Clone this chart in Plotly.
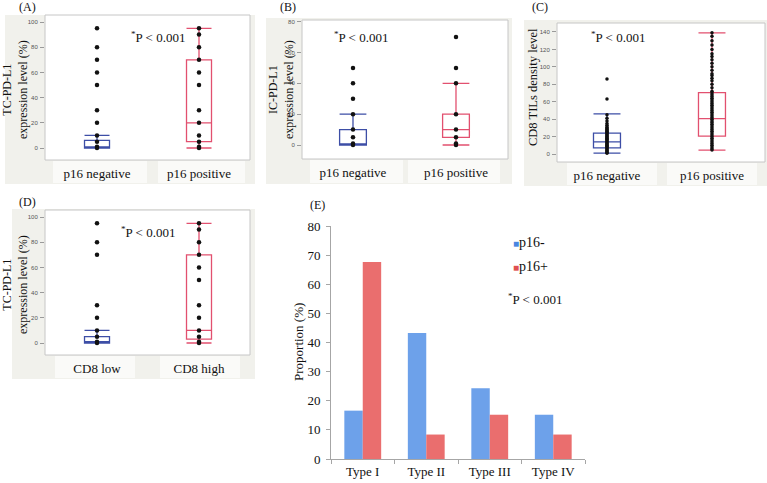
import plotly.graph_objects as go

W, H = 767, 483
SERIF = "Liberation Serif, Times New Roman, serif"
SANS = "Liberation Sans, Arial, sans-serif"
BLUE_BOX = "#3d4ea6"
PINK_BOX = "#e2506f"

# ---------------- data ----------------
p16_cats = ["p16 negative", "p16 positive"]
cd8_cats = ["CD8 low", "CD8 high"]

# Panel A: TC-PD-L1 by p16 status (box summary + observed points)
a_q1 = [0, 5]; a_med = [0.8, 20]; a_q3 = [6, 70]; a_lo = [0, 0]; a_hi = [10, 95]
a_neg_pts = [95, 80, 70, 60, 50, 30, 20, 10, 5, 1, 0]
a_pos_pts = [95, 90, 80, 70, 60, 50, 30, 20, 10, 5, 1, 0]

# Panel B: IC-PD-L1 by p16 status
b_q1 = [0, 5]; b_med = [0.5, 10]; b_q3 = [10, 20]; b_lo = [0, 0]; b_hi = [20, 40]
b_neg_pts = [50, 40, 30, 20, 10, 5, 1, 0]
b_pos_pts = [70, 50, 40, 20, 10, 5, 1, 0]

# Panel C: CD8 TILs density by p16 status
c_q1 = [7, 20.5]; c_med = [14, 40.5]; c_q3 = [24, 70.5]; c_lo = [1, 4.5]; c_hi = [46, 139]
c_neg_pts = [86, 63, 45, 41, 38, 35, 33, 31, 30, 29, 28, 27, 26, 25, 24, 23, 22, 21,
             20, 19, 18, 17, 16, 15, 14, 13, 12, 11, 10, 9, 8, 7, 6, 5, 4, 3, 2, 1]
c_pos_pts = [139, 135, 130, 125, 120, 115, 112, 108, 104, 100, 96, 92, 90, 87, 84, 80,
             76, 72, 70, 68, 66, 64, 62, 60, 58, 56, 54, 52, 50, 48, 46, 44, 42, 40,
             38, 36, 34, 32, 30, 28, 26, 24, 22, 20, 18, 16, 14, 12, 10, 8, 6, 4.5]

# Panel D: TC-PD-L1 by CD8 density
d_q1 = [0, 3]; d_med = [1, 10]; d_q3 = [5, 70]; d_lo = [0, 0]; d_hi = [10, 95]
d_low_pts = [95, 80, 70, 30, 20, 10, 5, 1, 0]
d_high_pts = [95, 90, 80, 70, 60, 50, 30, 20, 10, 5, 1, 0]

# Panel E: proportion of types
types = ["Type I", "Type II", "Type III", "Type IV"]
e_neg = [16.6, 43.3, 24.3, 15.2]
e_pos = [67.6, 8.4, 15.2, 8.4]


def px(x):
    return x / W


def py(y):
    return 1 - y / H


fig = go.Figure()


def add_box_panel(ax, cats, q1, med, q3, lo, hi, pts0, pts1, bw, msize=4.5):
    xa = "x" if ax == 1 else f"x{ax}"
    ya = "y" if ax == 1 else f"y{ax}"
    for i, col in enumerate([BLUE_BOX, PINK_BOX]):
        fig.add_trace(go.Box(
            x=[cats[i]], q1=[q1[i]], median=[med[i]], q3=[q3[i]],
            lowerfence=[lo[i]], upperfence=[hi[i]],
            width=bw, whiskerwidth=1, boxpoints=False,
            line=dict(color=col, width=1.3), fillcolor="rgba(0,0,0,0)",
            showlegend=False, hoverinfo="skip", xaxis=xa, yaxis=ya))
    for i, pts in enumerate([pts0, pts1]):
        fig.add_trace(go.Scatter(
            x=[cats[i]] * len(pts), y=pts, mode="markers",
            marker=dict(color="#111111", size=msize),
            showlegend=False, hoverinfo="skip", xaxis=xa, yaxis=ya))


add_box_panel(1, p16_cats, a_q1, a_med, a_q3, a_lo, a_hi, a_neg_pts, a_pos_pts, 0.245)
add_box_panel(2, p16_cats, b_q1, b_med, b_q3, b_lo, b_hi, b_neg_pts, b_pos_pts, 0.26)
add_box_panel(3, p16_cats, c_q1, c_med, c_q3, c_lo, c_hi, c_neg_pts, c_pos_pts, 0.257, msize=3.5)
add_box_panel(4, cd8_cats, d_q1, d_med, d_q3, d_lo, d_hi, d_low_pts, d_high_pts, 0.245)

fig.add_trace(go.Bar(x=types, y=e_neg, name="p16-", marker=dict(color="#6da1ea", line=dict(width=0)),
                     xaxis="x5", yaxis="y5", showlegend=False))
fig.add_trace(go.Bar(x=types, y=e_pos, name="p16+", marker=dict(color="#ea6e6e", line=dict(width=0)),
                     xaxis="x5", yaxis="y5", showlegend=False))

# ---------------- axes ----------------
def cat_xaxis(dom, rng, cats, anchor):
    return dict(domain=[px(dom[0]), px(dom[1])], range=rng, type="category",
                categoryorder="array", categoryarray=cats, anchor=anchor,
                showline=False, showgrid=False, zeroline=False, ticks="",
                tickfont=dict(family=SERIF, size=13, color="#111"),
                ticklabelstandoff=4, fixedrange=True)


def val_yaxis(dom, rng, dtick, anchor):
    return dict(domain=[py(dom[1]), py(dom[0])], range=rng, dtick=dtick, anchor=anchor,
                showline=False, showgrid=False, zeroline=False,
                ticks="outside", ticklen=4, tickcolor="#9a9a9a", tickwidth=1,
                tickfont=dict(family=SANS, size=6, color="#555"),
                ticklabelstandoff=1, fixedrange=True)


layout = dict(
    width=W, height=H, margin=dict(l=0, r=0, t=0, b=0, autoexpand=False),
    paper_bgcolor="white", plot_bgcolor="rgba(0,0,0,0)",
    barmode="group", bargap=0.42, bargroupgap=0,
    xaxis=cat_xaxis((45, 250), [-0.51, 1.5], p16_cats, "y"),
    yaxis=val_yaxis((15, 160), [-9.52, 105.56], 20, "x"),
    xaxis2=cat_xaxis((302, 508), [-0.495, 1.505], p16_cats, "y2"),
    yaxis2=val_yaxis((20, 159), [-9.08, 81.1], 20, "x2"),
    xaxis3=cat_xaxis((557, 765), [-0.476, 1.505], p16_cats, "y3"),
    yaxis3=val_yaxis((23, 162), [-9.18, 150.3], 20, "x3"),
    xaxis4=cat_xaxis((45, 250), [-0.51, 1.5], cd8_cats, "y4"),
    yaxis4=val_yaxis((210, 355), [-9.52, 105.56], 20, "x4"),
    xaxis5=dict(domain=[px(331), px(585)], range=[-0.5, 3.5], anchor="y5",
                showline=True, linecolor="#a6a6a6", linewidth=1, showgrid=False,
                zeroline=False, ticks="outside", tickson="boundaries", ticklen=4,
                tickcolor="#a6a6a6", tickfont=dict(family=SERIF, size=13, color="#111"),
                fixedrange=True),
    yaxis5=dict(domain=[py(459), py(226)], range=[0, 80], dtick=10, anchor="x5",
                showline=True, linecolor="#a6a6a6", linewidth=1, showgrid=False,
                zeroline=False, ticks="outside", ticklen=4, tickcolor="#a6a6a6",
                tickfont=dict(family=SERIF, size=13, color="#111"),
                ticklabelstandoff=3, fixedrange=True),
)

# ---------------- panel decorations ----------------
shapes = []


def rect(x0, y0, x1, y1, fill, line=None):
    shapes.append(dict(type="rect", xref="paper", yref="paper", layer="below",
                       x0=px(x0), x1=px(x1), y0=py(y1), y1=py(y0),
                       fillcolor=fill,
                       line=dict(width=1, color=line) if line else dict(width=0)))


BG = "#f1f1ec"
STRIP = "#fafaf8"
rect(5, 15, 255, 184, BG)
rect(266, 18, 512, 184, BG)
rect(524, 20, 767, 186, BG)
rect(12, 209, 255, 379, BG)
for (x0, y0, x1, y1) in [(53, 161, 147, 183), (158, 161, 245, 183),
                         (310, 160, 403, 183), (408, 160, 500, 183),
                         (567, 163, 657, 185), (667, 163, 757, 185),
                         (55, 356, 135, 378), (160, 356, 240, 378)]:
    rect(x0, y0, x1, y1, STRIP)
for (x0, y0, x1, y1) in [(45, 15, 250, 160), (302, 20, 508, 159),
                         (557, 23, 765, 162), (45, 210, 250, 355)]:
    rect(x0, y0, x1, y1, "white", "#c6c6c6")
layout["shapes"] = shapes

# ---------------- annotations ----------------
ann = []


def text(x, y, s, size=13, angle=0, xanchor="center", color="#111"):
    ann.append(dict(xref="paper", yref="paper", x=px(x), y=py(y), text=s, showarrow=False,
                    xanchor=xanchor, yanchor="middle", textangle=angle,
                    font=dict(family=SERIF, size=size, color=color)))


for lab, x, y in [("(A)", 28, 7), ("(B)", 288, 7), ("(C)", 540, 7), ("(D)", 28, 202), ("(E)", 317, 205)]:
    text(x, y, lab, size=12)

pstr = "<sup>*</sup>P < 0.001"
text(158, 37, pstr)
text(361, 37, pstr)
text(618, 37, pstr)
text(148, 232, pstr)
text(535, 299, pstr)

text(15, 90, "TC-PD-L1<br>expression level (%)", size=12, angle=-90)
text(281, 90, "IC-PD-L1<br>expression level (%)", size=12, angle=-90)
text(533, 87, "CD8 TILs density level", size=12.5, angle=-90)
text(15, 285, "TC-PD-L1<br>expression level (%)", size=12, angle=-90)
text(298, 342, "Proportion (%)", size=13, angle=-90)

text(511, 242, "<span style='color:#4a86e0;font-size:10px'>■</span>p16-", size=14, xanchor="left")
text(511, 266, "<span style='color:#e05050;font-size:10px'>■</span>p16+", size=14, xanchor="left")
layout["annotations"] = ann

fig.update_layout(**layout)
fig.write_html("out.html", config={"displayModeBar": False},
               post_script="document.body.style.margin='0';document.body.style.overflow='hidden';")
